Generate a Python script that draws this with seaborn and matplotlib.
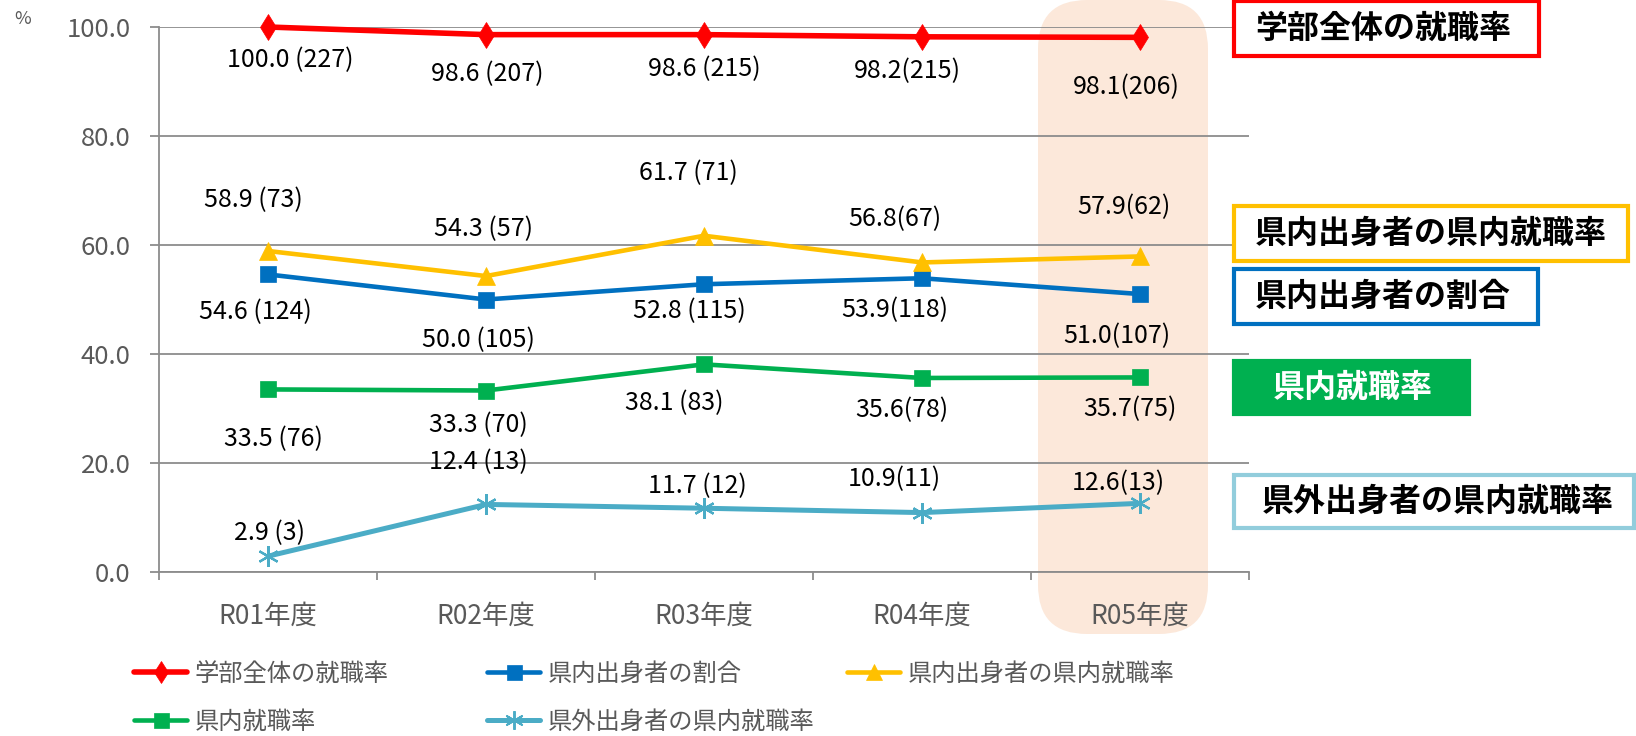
import matplotlib

matplotlib.use("Agg")
import matplotlib.pyplot as plt
import seaborn as sns
from matplotlib.lines import Line2D
from matplotlib.patches import FancyBboxPatch, Rectangle

# --- data -------------------------------------------------------------------
categories = ["R01年度", "R02年度", "R03年度", "R04年度", "R05年度"]
label_sep = [" ", " ", " ", "", ""]

overall_rate = [100.0, 98.6, 98.6, 98.2, 98.1]
overall_n = [227, 207, 215, 215, 206]
local_share = [54.6, 50.0, 52.8, 53.9, 51.0]
local_share_n = [124, 105, 115, 118, 107]
local_origin_local_job = [58.9, 54.3, 61.7, 56.8, 57.9]
local_origin_local_job_n = [73, 57, 71, 67, 62]
local_job = [33.5, 33.3, 38.1, 35.6, 35.7]
local_job_n = [76, 70, 83, 78, 75]
outside_origin_local_job = [2.9, 12.4, 11.7, 10.9, 12.6]
outside_origin_local_job_n = [3, 13, 12, 11, 13]

series_names = [
    "学部全体の就職率",
    "県内出身者の割合",
    "県内出身者の県内就職率",
    "県内就職率",
    "県外出身者の県内就職率",
]
yticks = [0, 20, 40, 60, 80, 100]

# --- style ------------------------------------------------------------------
RED = "#FF0000"
BLUE = "#0070C0"
YELLOW = "#FFC000"
GREEN = "#00B050"
LBLUE = "#4BACC6"
GRID = "#8C8C8C"
TXT = "#595959"
HIGHLIGHT = "#FCE8DA"

W, H = 1636, 736


def fx(x):
    return x / W


def fy(y):
    return 1 - y / H


sns.set_theme(style="white")
plt.rcParams["font.family"] = ["Noto Sans CJK JP", "DejaVu Sans"]

fig = plt.figure(figsize=(W / 100, H / 100), dpi=100)
ax = fig.add_axes([fx(159), fy(572), fx(1249 - 159), (572 - 27) / H])
ax.patch.set_visible(False)

# peach highlight behind R05 (rounded box, figure coords)
fig.patches.append(
    FancyBboxPatch(
        (fx(1038), fy(634)),
        fx(1208 - 1038),
        634 / H,
        boxstyle="round,pad=0,rounding_size=0.03",
        mutation_aspect=W / H,
        transform=fig.transFigure,
        facecolor=HIGHLIGHT,
        edgecolor="none",
        zorder=-5,
    )
)

# series: values, counts, colour, marker, marker size, line width, label offsets (px: dx, dy down)
series = [
    (overall_rate, overall_n, RED, "d", 13, 4.0,
     [(22, 33), (1, 39), (0, 34), (-15, 34), (-14, 50)]),
    (local_share, local_share_n, BLUE, "s", 12, 3.3,
     [(-13, 38), (-8, 41), (-15, 27), (-27, 32), (-23, 42)]),
    (local_origin_local_job, local_origin_local_job_n, YELLOW, "^", 13, 3.3,
     [(-15, -51), (-3, -47), (-16, -63), (-27, -43), (-16, -49)]),
    (local_job, local_job_n, GREEN, "s", 12, 3.3,
     [(5, 50), (-8, 35), (-30, 39), (-20, 32), (-10, 32)]),
    (outside_origin_local_job, outside_origin_local_job_n, LBLUE, (6, 2, 0), 15, 3.6,
     [(1, -23), (-8, -42), (-7, -22), (-28, -34), (-22, -20)]),
]

handles = []
for (vals, ns, col, mk, ms, lw, offs), name in zip(series, series_names):
    sns.lineplot(
        x=categories, y=vals, ax=ax, color=col, lw=lw, marker=mk, markersize=ms,
        markeredgecolor=col, markeredgewidth=1.6 if mk == (6, 2, 0) else 0.5,
        legend=False, clip_on=False, sort=False, zorder=5,
    )
    handles.append(Line2D([], [], color=col, lw=lw, marker=mk, markersize=ms * 0.9,
                          markeredgecolor=col, markeredgewidth=1.4 if mk == (6, 2, 0) else 0.5))
    for i, (v, n) in enumerate(zip(vals, ns)):
        dx, dy = offs[i]
        ax.annotate(f"{v:.1f}{label_sep[i]}({n})", (i, v), xytext=(dx, -dy),
                    textcoords="offset pixels", ha="center", va="center",
                    fontsize=18, color="black", zorder=6)

# axes
ax.set_xlim(-0.5, len(categories) - 0.5)
ax.set_ylim(0, 100)
ax.set_yticks(yticks)
ax.set_yticklabels([f"{t:.1f}" for t in yticks])
ax.yaxis.grid(True, color=GRID, lw=1.3)
ax.set_axisbelow(True)
ax.set_xlabel("")
ax.set_ylabel("")
for s in ["top", "right"]:
    ax.spines[s].set_visible(False)
for s in ["left", "bottom"]:
    ax.spines[s].set_color(GRID)
    ax.spines[s].set_linewidth(1.3)
ax.tick_params(axis="y", direction="out", length=6.5, width=1.3, color=GRID,
               labelsize=18.5, labelcolor=TXT, pad=14, left=True)
ax.set_xticks(range(len(categories)))
ax.set_xticks([i - 0.5 for i in range(len(categories) + 1)], minor=True)
ax.tick_params(axis="x", which="major", length=0, labelsize=19, labelcolor=TXT, pad=22)
ax.tick_params(axis="x", which="minor", direction="out", length=6, width=1.3,
               color=GRID, bottom=True)

fig.text(fx(23), fy(19), "%", fontsize=13, color=TXT, ha="center", va="center")

# right-hand series callouts
callouts = [
    ("学部全体の就職率", RED, "white", "black", (1234, 1, 1539, 56), 1255),
    ("県内出身者の県内就職率", YELLOW, "white", "black", (1234, 206, 1628, 261), 1255),
    ("県内出身者の割合", BLUE, "white", "black", (1234, 269, 1538, 324), 1255),
    ("県内就職率", GREEN, GREEN, "white", (1234, 361, 1469, 414), 1273),
    ("県外出身者の県内就職率", "#92CDDC", "white", "black", (1234, 475, 1634, 528), 1262),
]
for text, edge, face, tcol, (x0, y0, x1, y1), tx in callouts:
    fig.patches.append(Rectangle((fx(x0), fy(y1)), fx(x1 - x0), (y1 - y0) / H,
                                 transform=fig.transFigure, facecolor=face,
                                 edgecolor=edge, lw=3))
    fig.text(fx(tx), fy((y0 + y1) / 2), text, fontsize=23, fontweight="bold",
             color=tcol, ha="left", va="center")

# bottom legend, three columns laid out row-wise
legend_cols = [([0, 3], 134), ([1, 4], 487), ([2], 847)]
for idx, x0 in legend_cols:
    fig.legend([handles[i] for i in idx], [series_names[i] for i in idx],
               loc="upper left", bbox_to_anchor=(fx(x0), fy(661)), frameon=False,
               borderpad=0, borderaxespad=0, fontsize=17.5, labelcolor=TXT,
               handlelength=2.2, handletextpad=0.3, labelspacing=0.9)

fig.savefig("out.png", dpi=100)
plt.close(fig)
